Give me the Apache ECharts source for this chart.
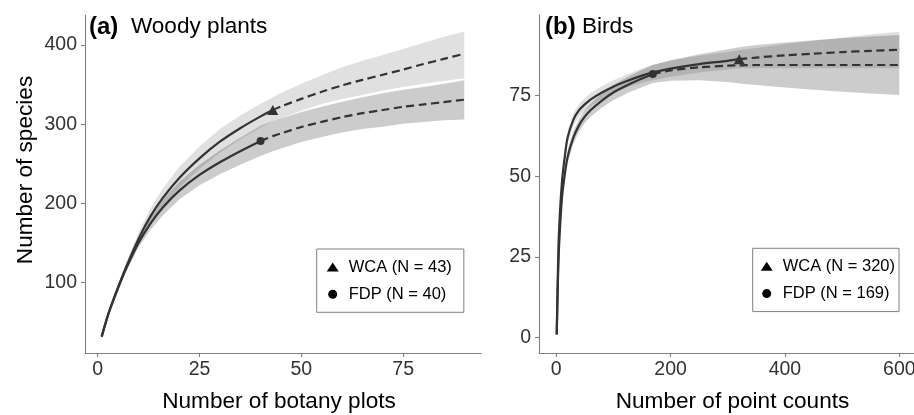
<!DOCTYPE html>
<html>
<head>
<meta charset="utf-8">
<script src="https://cdn.jsdelivr.net/npm/echarts@6/dist/echarts.min.js"></script>
<style>
  html, body { margin: 0; padding: 0; background: #fff; }
  #chart { width: 914px; height: 415px; }
</style>
</head>
<body>
<div id="chart"></div>
<script>
// (a) Woody plants: number of botany plots vs species
const plotX = [1, 2, 3, 5, 7, 10, 13, 16, 20, 25, 30, 35, 40, 43, 45, 50, 55, 60, 65, 70, 75, 80, 85, 90];
const plotWca = [32, 50, 66, 94, 120, 155, 184, 207, 232, 257, 278, 295, 310, 318, 322.5, 332, 341, 349, 356, 362.5, 369, 376, 382.5, 389];
const plotWcaLo = [31, 48, 64, 91, 115, 148, 175, 196, 220, 244, 264, 281, 296, 304, 308, 317, 325.5, 332, 337, 342.5, 347, 351, 354.5, 358];
const plotWcaHi = [33, 52, 68, 97, 125, 163, 194, 219, 246, 272, 294, 311, 326, 334, 339.5, 351, 362, 372, 380, 387.5, 395, 403, 410.5, 417];
const plotFdp = [32, 50, 66, 93, 118, 150, 175, 195, 216, 236, 252, 266, 279, 285, 288.5, 296.5, 303, 309, 314, 318, 322, 325, 328, 331];
const plotFdpLo = [31, 48, 64, 90, 114, 144, 167, 185, 205, 223, 237, 249, 260, 266, 269.5, 277.5, 284, 289.5, 294, 297, 300.5, 303, 305, 306];
const plotFdpHi = [33, 52, 68, 96, 122, 156, 183, 205, 227, 249, 267, 283, 298, 304, 307.5, 315.5, 322, 328.5, 334, 339, 343.5, 347, 351, 355.5];
const plotWcaN = 43;
const plotFdpN = 40;

// (b) Birds: number of point counts vs species
const countX = [1, 3, 5, 10, 15, 20, 30, 40, 50, 60, 80, 100, 125, 150, 169, 200, 250, 300, 320, 350, 400, 450, 500, 550, 600];
const countWca = [1, 20, 33, 48, 56, 62, 67.5, 70.5, 72.3, 73.8, 76, 77.8, 79.6, 81.2, 82.2, 83.4, 84.8, 85.8, 86.3, 86.8, 87.5, 88, 88.5, 88.9, 89.2];
const countWcaLo = [1, 19, 31.5, 46, 54, 60, 65.5, 68.5, 70.3, 71.8, 74, 75.8, 77.6, 79, 79.8, 80.9, 82.2, 83.1, 83.5, 83.5, 83.5, 83.5, 83.5, 83.5, 83.5];
const countWcaHi = [1, 21, 34.5, 50, 58, 64, 69.5, 72.5, 74.3, 75.8, 78, 79.8, 81.6, 83.4, 84.6, 85.9, 87.4, 88.5, 89.1, 89.8, 91, 92, 93, 94, 94.8];
const countFdp = [1, 17, 28, 43, 50.5, 56, 62, 65.8, 68.5, 70.5, 73.5, 76, 78.3, 80.3, 81.7, 82.8, 83.8, 84.3, 84.4, 84.5, 84.5, 84.5, 84.5, 84.5, 84.5];
const countFdpLo = [1, 16, 26.5, 41, 48.5, 54, 60, 63.8, 66.5, 68.5, 71.3, 73.6, 75.8, 77.6, 78.9, 79.6, 79.8, 79.2, 78.8, 78.3, 77.5, 76.8, 76.2, 75.7, 75.2];
const countFdpHi = [1, 18, 29.5, 45, 52.5, 58, 64, 67.8, 70.5, 72.5, 75.7, 78.4, 80.8, 83, 84.5, 86, 87.8, 89.4, 90, 90.7, 91.5, 92.2, 92.8, 93.3, 93.8];
const countWcaN = 320;
const countFdpN = 169;

const legendA = ['WCA (N = 43)', 'FDP (N = 40)'];
const legendB = ['WCA (N = 320)', 'FDP (N = 169)'];

const plotXTicks = [0, 25, 50, 75];
const plotYTicks = [100, 200, 300, 400];
const countXTicks = [0, 200, 400, 600];
const countYTicks = [0, 25, 50, 75];

const FONT = '"Liberation Sans", Arial, sans-serif';
const LINE = '#333333';
const AXIS = '#7f7f7f';

const pairs = (xs, ys) => xs.map((x, i) => [x, ys[i]]);
const upTo = (xs, ys, n) => pairs(xs, ys).filter((p) => p[0] <= n);
const from = (xs, ys, n) => pairs(xs, ys).filter((p) => p[0] >= n);
const at = (xs, ys, n) => [[n, ys[xs.indexOf(n)]]];

// confidence band as one polygon, placed with the axis scales
function band(gi, xs, lo, hi, fill) {
    return {
        type: 'custom',
        xAxisIndex: gi,
        yAxisIndex: gi,
        silent: true,
        z: 1,
        data: xs.map((x, i) => [x, lo[i], hi[i]]),
        encode: { x: 0, y: [1, 2] },
        renderItem: (params, api) => {
            if (params.dataIndex !== 0) return;
            const top = xs.map((x, i) => api.coord([x, hi[i]]));
            const bottom = xs.map((x, i) => api.coord([x, lo[i]])).reverse();
            return {
                type: 'polygon',
                shape: { points: top.concat(bottom) },
                style: { fill: fill },
            };
        },
    };
}

function curve(gi, data, dashed) {
    return {
        type: 'line',
        xAxisIndex: gi,
        yAxisIndex: gi,
        data: data,
        symbol: 'none',
        smooth: 0.3,
        silent: true,
        z: 3,
        lineStyle: { color: LINE, width: 2.2, type: dashed ? [8, 4.5] : 'solid' },
    };
}

function marker(gi, name, symbol, size, data) {
    return {
        type: 'scatter',
        name: name,
        xAxisIndex: gi,
        yAxisIndex: gi,
        data: data,
        symbol: symbol,
        symbolSize: size,
        silent: true,
        z: 4,
        itemStyle: { color: LINE, opacity: 1 },
    };
}

function xAxis(gi, min, max, ticks, name, pad) {
    return {
        type: 'value',
        gridIndex: gi,
        min: min,
        max: max,
        splitLine: { show: false },
        axisLine: { show: true, onZero: false, lineStyle: { color: AXIS, width: 1.1 } },
        axisTick: { show: true, length: 4, customValues: ticks, lineStyle: { color: AXIS, width: 1.1 } },
        axisLabel: { customValues: ticks, color: '#333', fontSize: 19.5, fontFamily: FONT, margin: 7 },
        name: name,
        nameLocation: 'middle',
        nameGap: 37,
        nameTextStyle: { fontSize: 22.6, color: '#000', fontFamily: FONT, padding: pad },
    };
}

function yAxis(gi, min, max, ticks, name) {
    return {
        type: 'value',
        gridIndex: gi,
        min: min,
        max: max,
        splitLine: { show: false },
        axisLine: { show: true, onZero: false, lineStyle: { color: AXIS, width: 1.1 } },
        axisTick: { show: true, length: 4, customValues: ticks, lineStyle: { color: AXIS, width: 1.1 } },
        axisLabel: { customValues: ticks, color: '#333', fontSize: 19.5, fontFamily: FONT, margin: 8 },
        name: name,
        nameLocation: 'middle',
        nameGap: 48,
        nameTextStyle: { fontSize: 22.6, color: '#000', fontFamily: FONT, padding: [0, 0, 0, 28] },
    };
}

function legend(names, left, top, padding) {
    return {
        orient: 'vertical',
        left: left,
        top: top,
        padding: padding,
        itemGap: 9.3,
        itemWidth: 12,
        itemHeight: 9,
        selectedMode: false,
        borderColor: AXIS,
        borderWidth: 1,
        itemStyle: { color: '#000' },
        textStyle: { fontSize: 16.5, color: '#000', fontFamily: FONT, lineHeight: 18, padding: [0, 0, 0, 5] },
        data: [
            { name: names[0], icon: 'triangle' },
            { name: names[1], icon: 'circle' },
        ],
    };
}

const titleRich = {
    b: { fontSize: 24, fontWeight: 'bold', color: '#000', fontFamily: FONT },
    n: { fontSize: 22.6, fontWeight: 'normal', color: '#000', fontFamily: FONT },
};

const option = {
    animation: false,
    backgroundColor: '#fff',
    textStyle: { fontFamily: FONT },
    title: [
        { left: 89, top: 15, padding: 0, text: '{b|(a)}{n|  Woody plants}', textStyle: { fontWeight: 'normal', rich: titleRich } },
        { left: 545, top: 15, padding: 0, text: '{b|(b)}{n| Birds}', textStyle: { fontWeight: 'normal', rich: titleRich } },
    ],
    legend: [
        legend(legendA, 316.7, 249, [9, 12, 9, 10]),
        legend(legendB, 752.7, 248.3, [9, 4, 9, 8]),
    ],
    grid: [
        { left: 85, top: 15, width: 396, height: 338, outerBoundsMode: 'none' },
        { left: 539, top: 15, width: 377.5, height: 338, outerBoundsMode: 'none' },
    ],
    xAxis: [
        xAxis(0, -3.1, 94.1, plotXTicks, 'Number of botany plots', [0, 8, 0, 0]),
        xAxis(1, -30, 630, countXTicks, 'Number of point counts', [0, 0, 0, 9.5]),
    ],
    yAxis: [
        yAxis(0, 11.3, 437.9, plotYTicks, 'Number of species'),
        yAxis(1, -4.75, 100, countYTicks, ''),
    ],
    series: [
        band(0, plotX, plotWcaLo, plotWcaHi, 'rgba(0,0,0,0.12)'),
        band(0, plotX, plotFdpLo, plotFdpHi, 'rgba(0,0,0,0.2)'),
        curve(0, upTo(plotX, plotWca, plotWcaN), false),
        curve(0, from(plotX, plotWca, plotWcaN), true),
        curve(0, upTo(plotX, plotFdp, plotFdpN), false),
        curve(0, from(plotX, plotFdp, plotFdpN), true),
        marker(0, legendA[0], 'triangle', [11, 10], at(plotX, plotWca, plotWcaN)),
        marker(0, legendA[1], 'circle', 8, at(plotX, plotFdp, plotFdpN)),

        band(1, countX, countWcaLo, countWcaHi, 'rgba(0,0,0,0.12)'),
        band(1, countX, countFdpLo, countFdpHi, 'rgba(0,0,0,0.2)'),
        curve(1, upTo(countX, countWca, countWcaN), false),
        curve(1, from(countX, countWca, countWcaN), true),
        curve(1, upTo(countX, countFdp, countFdpN), false),
        curve(1, from(countX, countFdp, countFdpN), true),
        marker(1, legendB[0], 'triangle', [11, 10], at(countX, countWca, countWcaN)),
        marker(1, legendB[1], 'circle', 8, at(countX, countFdp, countFdpN)),
    ],
};

const chart = echarts.init(document.getElementById('chart'));
chart.setOption(option);
</script>
</body>
</html>
